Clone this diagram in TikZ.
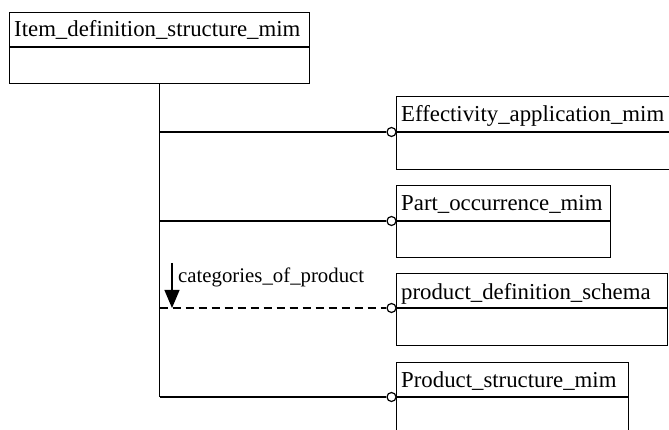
\documentclass[tikz,border=0pt]{standalone}
\usepackage{fontspec}
\setmainfont{Liberation Serif}
\usetikzlibrary{arrows.meta}
\begin{document}
\begin{tikzpicture}[x=1pt,y=-1pt,
  entbox/.style={draw, line width=1.4pt, anchor=north west, inner sep=0pt},
  divline/.style={line width=1.4pt},
  enttext/.style={anchor=base west, inner sep=0pt, font=\fontsize{22.8}{27}\selectfont},
  conn/.style={line width=1.4pt},
  dconn/.style={line width=1.4pt, dash pattern=on 8pt off 5pt},
  circ/.style={draw, circle, line width=1.2pt, fill=white, inner sep=0pt, minimum size=9pt},
  lbl/.style={anchor=base west, inner sep=0pt, font=\fontsize{20.8}{24}\selectfont}]
\useasboundingbox (0,0) rectangle (669,430);
\clip (0,0) rectangle (669,430);
% top box
\node[entbox, minimum width=300pt, minimum height=71pt] (top) at (9,12) {};
\draw[divline] (9,47) -- (309,47);
\node[enttext] (ttop) at (14,37) {Item\_definition\_structure\_mim};
% effectivity
\node[entbox, minimum width=290pt, minimum height=73pt] (eff) at (396,96) {};
\draw[divline] (396,132) -- (686,132);
\node[enttext] (teff) at (401,122) {Effectivity\_application\_mim};
% part occurrence
\node[entbox, minimum width=214pt, minimum height=72pt] (part) at (396,185) {};
\draw[divline] (396,221) -- (610,221);
\node[enttext] (tpart) at (401,211) {Part\_occurrence\_mim};
% product definition schema
\node[entbox, minimum width=271pt, minimum height=72pt] (pds) at (396,273) {};
\draw[divline] (396,308) -- (667,308);
\node[enttext] (tpds) at (401,299) {product\_definition\_schema};
% product structure
\node[entbox, minimum width=232pt, minimum height=90pt] (ps) at (396,362) {};
\draw[divline] (396,397) -- (628,397);
\node[enttext] (tps) at (401,387) {Product\_structure\_mim};
% circles
\node[circ] (c1) at (391.5,132) {};
\node[circ] (c2) at (391.5,221) {};
\node[circ] (c3) at (391.5,308) {};
\node[circ] (c4) at (391.5,397) {};
% trunk and branches
\coordinate (j1) at (top.south |- c1.west);
\coordinate (j2) at (top.south |- c2.west);
\coordinate (j3) at (top.south |- c3.west);
\coordinate (j4) at (top.south |- c4.west);
\draw[conn] (top.south) -- (j4);
\draw[conn] (j1) -- (c1.west);
\draw[conn] (j2) -- (c2.west);
\draw[dconn] (j3) -- (c3.west);
\draw[conn] (j4) -- (c4.west);
% label arrow
\coordinate (astart) at (172,263);
\coordinate (aend) at (172,308);
\draw[line width=1.2pt, -{Triangle[length=18pt,width=15pt]}] (astart) -- (aend);
\node[lbl] (lab) at (178,283) {categories\_of\_product};
\end{tikzpicture}
\end{document}
